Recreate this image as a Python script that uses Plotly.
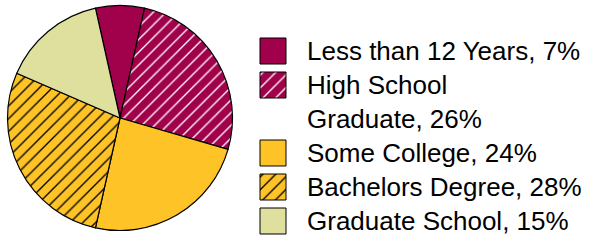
import plotly.graph_objects as go

# ---- data ----
categories = ["Less than 12 Years", "High School Graduate", "Some College",
              "Bachelors Degree", "Graduate School"]
values = [7, 26, 24, 28, 15]
legend_labels = ["Less than 12 Years, 7%", "High School<br>Graduate, 26%",
                 "Some College, 24%", "Bachelors Degree, 28%",
                 "Graduate School, 15%"]

# ---- styles ----
colors = ["#A1004A", "#A1004A", "#FEC326", "#FEC326", "#DFE09D"]
hatch = ["", "/", "", "/", ""]
hatch_fg = ["white", "white", "black", "black", "black"]
legend_lines = [0, 1, 3, 4, 5]   # line slot of each legend entry
W, H = 592, 241
FONT = "Arial, Liberation Sans, sans-serif"

fig = go.Figure()

fig.add_trace(go.Pie(
    labels=categories, values=values, sort=False, direction="clockwise",
    rotation=-values[0] * 3.6 / 2,
    textinfo="none", showlegend=False, hoverinfo="label+percent",
    marker=dict(colors=colors, line=dict(color="black", width=1.2),
                pattern=dict(shape=hatch, fgcolor=hatch_fg, bgcolor=colors,
                             size=9, solidity=0.15, fillmode="replace")),
    domain=dict(x=[7.5 / W, 232.5 / W], y=[1 - 230.5 / H, 1 - 5.5 / H]),
))

# legend swatches as bars on a hidden axis (one trace per entry)
for col, hs, fg, ln in zip(colors, hatch, hatch_fg, legend_lines):
    fig.add_trace(go.Bar(
        orientation="h", x=[1], y=[ln], base=0, width=0.765,
        showlegend=False, hoverinfo="skip", xaxis="x2", yaxis="y2",
        marker=dict(color=col, line=dict(color="black", width=1),
                    pattern=dict(shape=hs, fgcolor=fg, bgcolor=col,
                                 size=9, solidity=0.15, fillmode="replace")),
    ))

pitch = 34.0
top_center = 51.0
y_lo = -top_center / pitch
y_hi = (H - top_center) / pitch

annotations = []
for lbl, ln in zip(legend_labels, legend_lines):
    yy = ln + (0.5 if "<br>" in lbl else 0)
    annotations.append(dict(
        text=lbl, x=305 / W, xref="paper", y=yy, yref="y2",
        xanchor="left", yanchor="middle", showarrow=False, align="left",
        font=dict(family=FONT, size=26, color="black")))

fig.update_layout(
    width=W, height=H, margin=dict(l=0, r=0, t=0, b=0),
    paper_bgcolor="white", plot_bgcolor="rgba(0,0,0,0)", barmode="overlay",
    xaxis2=dict(domain=[259 / W, 287 / W], range=[-1 / 26, 27 / 26], visible=False,
                anchor="y2", fixedrange=True),
    yaxis2=dict(domain=[0, 1], range=[y_hi, y_lo], visible=False, anchor="x2",
                fixedrange=True),
    annotations=annotations,
    font=dict(family=FONT),
)

fig.write_html("out.html", config={"displayModeBar": False},
               post_script="document.body.style.margin='0px';")
